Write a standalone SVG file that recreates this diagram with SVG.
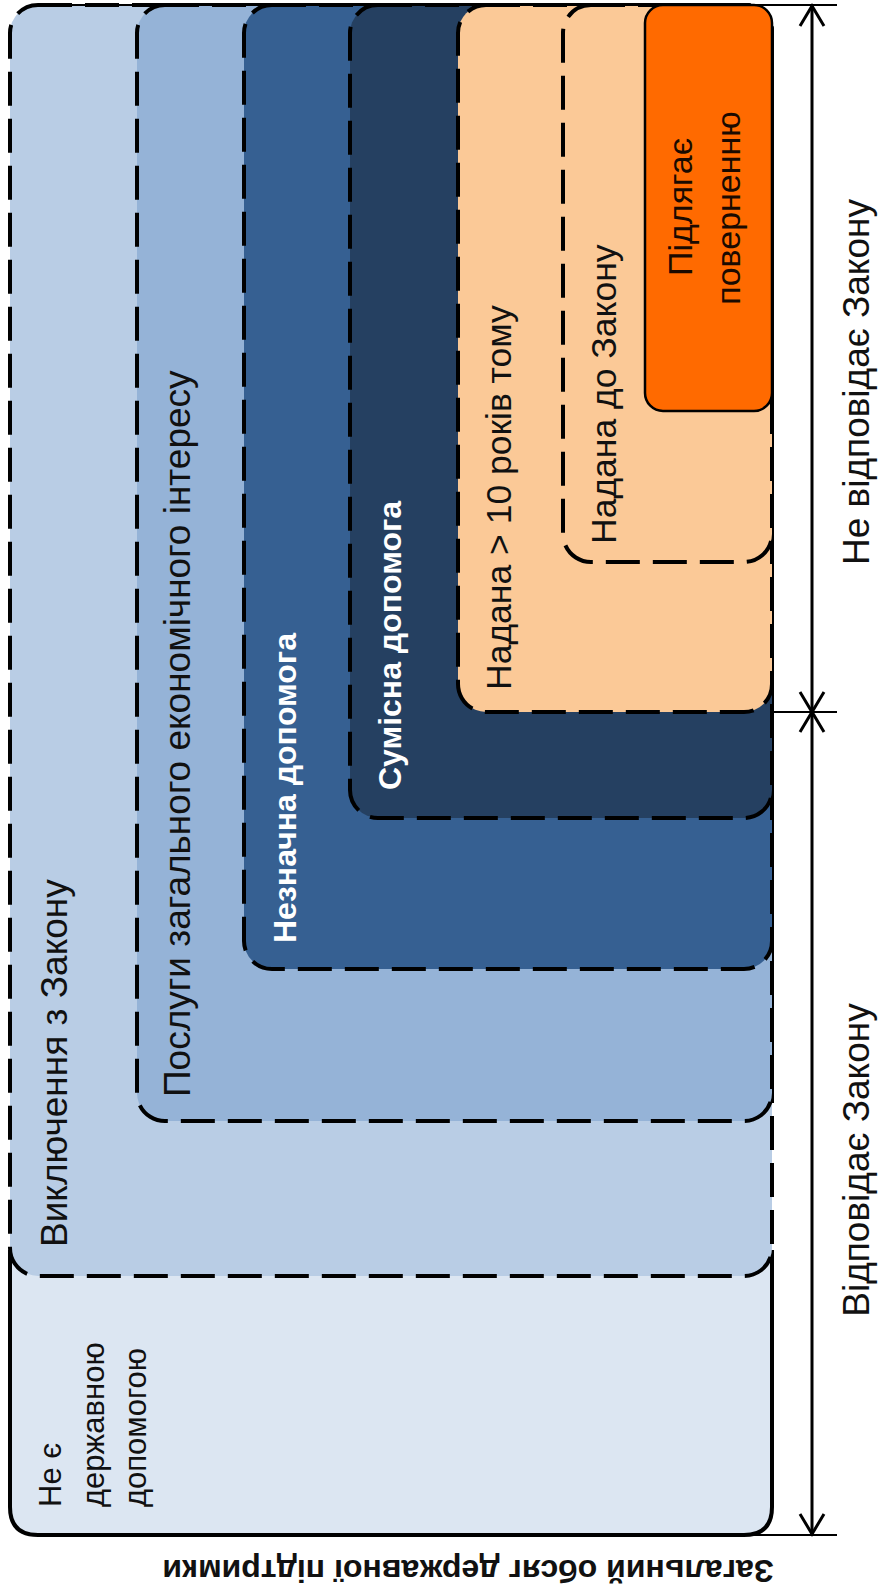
<svg xmlns="http://www.w3.org/2000/svg" width="879" height="1596" viewBox="0 0 879 1596">
<defs>
<style>
.box{stroke:#000;stroke-width:4;stroke-dasharray:34 13;}
.solid{stroke:#000;stroke-width:4;fill:none;}
.t{font-family:"Liberation Sans",Arial,sans-serif;font-size:37px;fill:#111;dominant-baseline:central;}
.p{font-size:35.5px;}
.s{font-size:31px;}
.w{fill:#fff;font-weight:bold;font-size:32px;}
.dim{stroke:#000;stroke-width:3;fill:none;}
.tick{stroke:#000;stroke-width:2;}
</style>
<marker id="arr" viewBox="0 0 22 26" refX="21" refY="13" markerWidth="22" markerHeight="26" markerUnits="userSpaceOnUse" orient="auto-start-reverse" overflow="visible">
<path d="M1,1 L21,13 L1,25" fill="none" stroke="#000" stroke-width="3"/>
</marker>
</defs>
<rect width="879" height="1596" fill="#fff"/>

<g id="ne-derzh">
<rect x="10" y="5" width="762" height="1530" rx="28" fill="#dce6f2"/>
<path class="solid" d="M10,1250 V1507 Q10,1535 38,1535 H744 Q772,1535 772,1507 V1250"/>
<text class="t s" transform="translate(50,1507) rotate(-90)">Не є</text>
<text class="t s" transform="translate(93,1507) rotate(-90)">державною</text>
<text class="t s" transform="translate(135,1507) rotate(-90)">допомогою</text>
</g>

<g id="vyklyuchennya">
<rect class="box" x="10" y="5" width="762" height="1271" rx="28" fill="#b9cde5"/>
<text class="t" transform="translate(54,1247) rotate(-90)">Виключення з Закону</text>
</g>

<g id="posluhy">
<rect class="box" x="137" y="5" width="635" height="1116" rx="28" fill="#95b3d7"/>
<text class="t" transform="translate(177,1097) rotate(-90)">Послуги загального економічного інтересу</text>
</g>

<g id="neznachna">
<rect class="box" x="244" y="5" width="528" height="964" rx="28" fill="#366092"/>
<text class="t w" transform="translate(285,943) rotate(-90)">Незначна допомога</text>
</g>

<g id="sumisna">
<rect class="box" x="350" y="5" width="422" height="813" rx="28" fill="#254061"/>
<text class="t w" transform="translate(390,790) rotate(-90)">Сумісна допомога</text>
</g>

<g id="nadana-10">
<rect class="box" x="458" y="5" width="314" height="707" rx="28" fill="#fbc997"/>
<text class="t p" transform="translate(499,690) rotate(-90)">Надана &gt; 10 років тому</text>
</g>

<g id="nadana-do">
<rect class="box" x="563" y="5" width="209" height="557" rx="28" fill="#fbc997"/>
<text class="t p" transform="translate(604,544) rotate(-90)">Надана до Закону</text>
</g>

<g id="pidlyahaye">
<rect x="645" y="5" width="127" height="406" rx="18" fill="#ff6a00" stroke="#000" stroke-width="2.5"/>
<text class="t" text-anchor="middle" transform="translate(680,207) rotate(-90)" style="font-size:34px;fill:#1a0a00">Підлягає</text>
<text class="t" text-anchor="middle" transform="translate(728,208) rotate(-90)" style="font-size:34px;fill:#1a0a00">поверненню</text>
</g>

<g id="connectors">
<line class="tick" x1="30" y1="5" x2="837" y2="5"/>
<line class="tick" x1="772" y1="712" x2="837" y2="712"/>
<line class="tick" x1="746" y1="1535" x2="837" y2="1535"/>
<line class="dim" x1="812" y1="712" x2="812" y2="6" marker-start="url(#arr)" marker-end="url(#arr)"/>
<line class="dim" x1="812" y1="712" x2="812" y2="1534" marker-start="url(#arr)" marker-end="url(#arr)"/>
</g>

<g id="labels">
<text class="t" text-anchor="middle" transform="translate(856,382) rotate(-90)">Не відповідає Закону</text>
<text class="t" text-anchor="middle" transform="translate(856,1160) rotate(-90)">Відповідає Закону</text>
<text class="t" text-anchor="middle" transform="translate(468,1571) rotate(180)" style="font-weight:bold;font-size:32px">Загальний обсяг державної підтримки</text>
</g>
</svg>
